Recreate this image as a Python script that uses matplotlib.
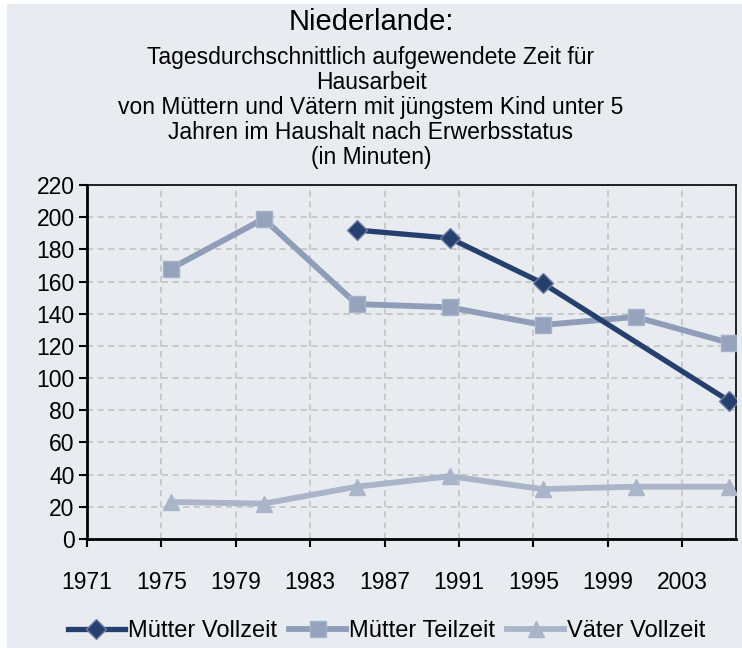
import matplotlib
matplotlib.use("Agg")
import matplotlib.pyplot as plt
from matplotlib.patches import Rectangle

plt.rcParams['font.family'] = ['Liberation Sans', 'DejaVu Sans']

years = [1975, 1980, 1985, 1990, 1995, 2000, 2005]
muetter_vollzeit = [None, None, 192, 187, 159, None, 86]
muetter_teilzeit = [168, 199, 146, 144, 133, 138, 122]
vaeter_vollzeit = [23, 22, 32.5, 39, 31, 32.5, 32.5]
tick_labels = ['1971', '1975', '1979', '1983', '1987', '1991', '1995', '1999', '2003']
series_names = ['Mütter Vollzeit', 'Mütter Teilzeit', 'Väter Vollzeit']
title_main = 'Niederlande:'
title_sub = ('Tagesdurchschnittlich aufgewendete Zeit für\nHausarbeit\n'
             'von Müttern und Vätern mit jüngstem Kind unter 5\n'
             'Jahren im Haushalt nach Erwerbsstatus\n(in Minuten)')

bg = '#E8EBF0'
fig = plt.figure(figsize=(7.42, 6.48), dpi=100, facecolor='white')
fig.patches.append(Rectangle((7/742, 0), 1 - 7/742, 1 - 4/648, transform=fig.transFigure,
                             facecolor=bg, edgecolor='none', zorder=-10))
ax = fig.add_axes([87/742, 1 - 539/648, (736 - 87)/742, (539 - 185)/648])
ax.set_facecolor(bg)

mv_x = [y for y, v in zip(years, muetter_vollzeit) if v is not None]
mv_y = [v for v in muetter_vollzeit if v is not None]
l1, = ax.plot(mv_x, mv_y, color='#253F6F', lw=3.8, marker='D', ms=10,
              mfc='#253F6F', mec='#6F7F9F', mew=1, zorder=5, label=series_names[0])
l2, = ax.plot(years, muetter_teilzeit, color='#8F9DB8', lw=4.2, marker='s', ms=12,
              mfc='#95A2BC', mec='#A6B2C8', mew=1, zorder=4, label=series_names[1])
l3, = ax.plot(years, vaeter_vollzeit, color='#AAB5C9', lw=4.2, marker='^', ms=12,
              mfc='#AAB5C9', mec='#AAB5C9', mew=1, zorder=3, label=series_names[2])

tick_pos = [int(t) - 0.5 for t in tick_labels]
ax.set_xticks(tick_pos)
ax.set_xticklabels(tick_labels)
ax.set_xlim(1970.5, 2005.4)
ax.set_ylim(0, 220)
ax.set_yticks(range(0, 221, 20))

ax.grid(True, color='#BFBFBF', linestyle=(0, (4, 3)), linewidth=1.1)
ax.set_axisbelow(True)
for s in ax.spines.values():
    s.set_color('black')
    s.set_linewidth(1.2)
ax.spines['left'].set_linewidth(2)
ax.spines['bottom'].set_linewidth(2)
ax.tick_params(axis='both', labelsize=16.5, length=6, width=1.5, direction='out', colors='black')
ax.tick_params(axis='x', pad=17)
ax.tick_params(axis='y', pad=3)

fig.text(0.5, 1 - 22/648, title_main, ha='center', va='center', fontsize=21)
fig.text(0.5, 1 - 107.5/648, title_sub, ha='center', va='center', fontsize=16.5, linespacing=1.1)

leg = fig.legend(handles=[l1, l2, l3], loc='center', bbox_to_anchor=(387/742, 1 - 631/648),
                 ncol=3, frameon=False, fontsize=17, handlelength=2.4, columnspacing=0.5,
                 handletextpad=0.15, borderpad=0, borderaxespad=0)

fig.savefig('out.png', dpi=100, facecolor='white')
